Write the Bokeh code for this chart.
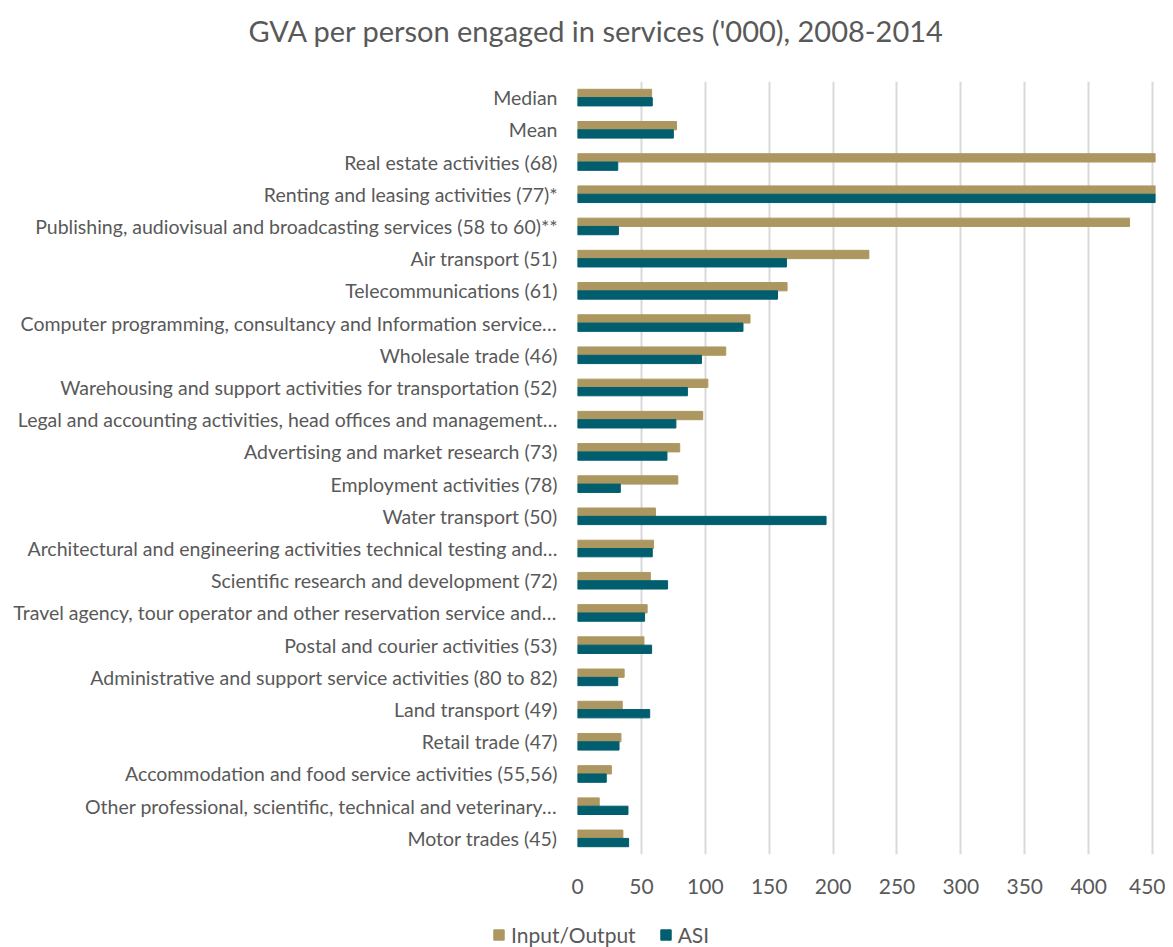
from bokeh.plotting import figure
from bokeh.layouts import column
from bokeh.models import (ColumnDataSource, FactorRange, Range1d, FixedTicker,
                          Legend, LegendItem, Title)
from bokeh.transform import dodge
from bokeh.embed import file_html
from bokeh.resources import INLINE

title_text = "GVA per person engaged in services ('000), 2008-2014"

categories = [
    "Median",
    "Mean",
    "Real estate activities (68)",
    "Renting and leasing activities (77)*",
    "Publishing, audiovisual and broadcasting services (58 to 60)**",
    "Air transport (51)",
    "Telecommunications (61)",
    "Computer programming, consultancy and Information service\u2026",
    "Wholesale trade (46)",
    "Warehousing and support activities for transportation (52)",
    "Legal and accounting activities, head offices and management\u2026",
    "Advertising and market research (73)",
    "Employment activities (78)",
    "Water transport (50)",
    "Architectural and engineering activities technical testing and\u2026",
    "Scientific research and development (72)",
    "Travel agency, tour operator and other reservation service and\u2026",
    "Postal and courier activities (53)",
    "Administrative and support service activities (80 to 82)",
    "Land transport (49)",
    "Retail trade (47)",
    "Accommodation and food service activities (55,56)",
    "Other professional, scientific, technical and veterinary\u2026",
    "Motor trades (45)",
]

input_output = [58, 77.5, 520, 610, 432, 228, 164, 135, 116, 102, 98, 80, 78.5,
                61, 59.5, 57, 54.5, 52, 36.5, 35, 34, 26.5, 17, 35.5]
asi = [58.5, 75, 31.5, 560, 32, 163.5, 156.5, 129.5, 97, 86, 77, 70, 33.5,
       194.5, 58.5, 70.5, 52.5, 58, 31.5, 56.5, 32.5, 22.5, 39.5, 40]

series_names = ["Input/Output", "ASI"]
series_colors = ["#AD9761", "#005E6E"]
x_ticks = [0, 50, 100, 150, 200, 250, 300, 350, 400, 450]

source = ColumnDataSource(dict(cat=categories, io=input_output, asi=asi))

TEXT = "#595959"
FONT = "Lato"

p = figure(width=1165, height=905,
           y_range=FactorRange(factors=categories[::-1]),
           x_range=Range1d(0, 452.3),
           output_backend="svg", toolbar_location=None,
           min_border_left=577, min_border_right=10,
           min_border_top=81, min_border_bottom=51)
p.outline_line_color = None
p.background_fill_color = "white"
p.border_fill_color = "white"

# spacer (closest to the frame) then the visible title above it
p.add_layout(Title(text=" ", text_font_size="1px", standoff=31), "above")
p.add_layout(Title(text=title_text, align="left", offset=-329,
                   text_font=FONT, text_font_size="29px",
                   text_font_style="normal", text_color=TEXT, standoff=0),
             "above")

r_io = p.hbar(y=dodge("cat", 0.129, range=p.y_range), right="io", left=0,
              height=0.258, color=series_colors[0], source=source)
r_asi = p.hbar(y=dodge("cat", -0.129, range=p.y_range), right="asi", left=0,
               height=0.258, color=series_colors[1], source=source)

p.xaxis.ticker = FixedTicker(ticks=x_ticks)
p.xaxis.axis_line_color = None
p.xaxis.major_tick_line_color = None
p.xaxis.minor_tick_line_color = None
p.xaxis.major_tick_out = 0
p.xaxis.major_label_standoff = 24
p.xaxis.major_label_text_font = FONT
p.xaxis.major_label_text_font_size = "21px"
p.xaxis.major_label_text_color = TEXT

p.yaxis.axis_line_color = None
p.yaxis.major_tick_line_color = None
p.yaxis.minor_tick_line_color = None
p.yaxis.major_tick_out = 0
p.yaxis.major_label_standoff = 20
p.yaxis.major_label_text_font = FONT
p.yaxis.major_label_text_font_size = "19.5px"
p.yaxis.major_label_text_color = TEXT

p.xgrid.grid_line_color = "#D9D9D9"
p.xgrid.grid_line_width = 2
p.ygrid.grid_line_color = None

# legend strip below the chart (its renderers are hidden; only the legend shows)
pl = figure(width=1165, height=42, x_range=Range1d(0, 1),
            y_range=FactorRange(factors=categories[::-1]),
            output_backend="svg", toolbar_location=None,
            min_border_left=492, min_border_right=0,
            min_border_top=0, min_border_bottom=0,
            x_axis_location=None, y_axis_location=None)
pl.frame_align = False
pl.outline_line_color = None
pl.xgrid.grid_line_color = None
pl.ygrid.grid_line_color = None
lr_io = pl.hbar(y="cat", right="io", left=0, height=0.5,
                color=series_colors[0], source=source, visible=False)
lr_asi = pl.hbar(y="cat", right="asi", left=0, height=0.5,
                 color=series_colors[1], source=source, visible=False)
legend = Legend(items=[LegendItem(label=series_names[0], renderers=[lr_io]),
                       LegendItem(label=series_names[1], renderers=[lr_asi])],
                location="bottom_left", orientation="horizontal",
                glyph_width=13, glyph_height=13, label_standoff=6, spacing=23,
                padding=0, margin=0, border_line_color=None,
                background_fill_alpha=0, inactive_fill_alpha=0,
                label_text_font=FONT, label_text_font_size="21px",
                label_text_color=TEXT, label_height=20)
pl.add_layout(legend)

layout = column(p, pl, spacing=0)
open("out.html", "w").write(file_html(layout, INLINE))
